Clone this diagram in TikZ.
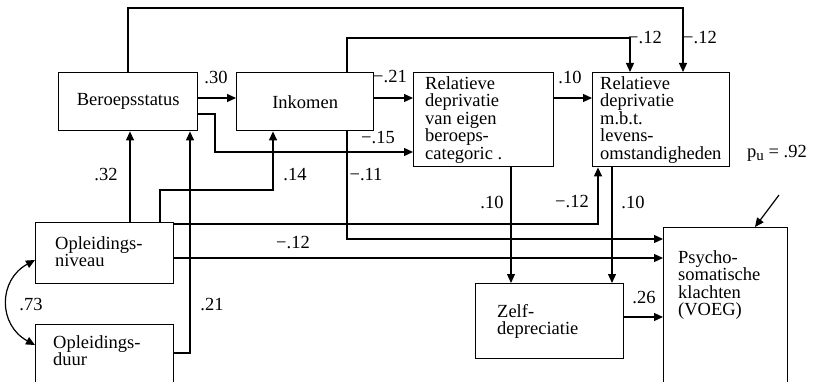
\documentclass[tikz,border=0pt]{standalone}
\usepackage{fontspec}
\setmainfont{Liberation Serif}
\usetikzlibrary{arrows.meta}
\newcommand\dfont{\fontsize{18.5}{17.5}\selectfont}
\begin{document}
\begin{tikzpicture}[x=1pt,y=-1pt,
  box/.style={draw, line width=1.4pt, inner sep=0pt, anchor=north west},
  txt/.style={inner sep=0pt, align=left, font=\dfont, anchor=north west},
  lbl/.style={inner sep=0pt, font=\dfont},
  arr/.style={line width=1.2pt, -{Triangle[length=9pt,width=8pt]}},
  darr/.style={line width=1.2pt, {Triangle[length=9pt,width=8pt]}-{Triangle[length=9pt,width=8pt]}}]
\fill[white] (0,0) rectangle (813,382);
\useasboundingbox (0,0) rectangle (813,382);

% boxes
\node[box, minimum width=139pt, minimum height=58pt, font=\dfont] (ber) at (58,72) {Beroepsstatus};
\node[box, minimum width=137pt, minimum height=58pt, font=\dfont] (ink) at (236,72) {Inkomen};
\node[box, minimum width=140pt, minimum height=94pt] (rd1) at (413,72) {};
\node[box, minimum width=137pt, minimum height=94pt] (rd2) at (592,72) {};
\node[box, minimum width=138pt, minimum height=61pt] (opn) at (35,222) {};
\node[box, minimum width=138pt, minimum height=58pt] (opd) at (35,324) {};
\node[box, minimum width=148pt, minimum height=75pt] (zel) at (475,283) {};
\node[box, minimum width=124pt, minimum height=155pt] (psy) at (663,227) {};

% box texts
\node[txt] (rd1t) at (425,76) {Relatieve\\deprivatie\\van eigen\\beroeps-\\categoric .};
\node[txt] (rd2t) at (600,76) {Relatieve\\deprivatie\\m.b.t.\\levens-\\omstandigheden};
\node[txt] (opnt) at (55,236) {Opleidings-\\niveau};
\node[txt] (opdt) at (53,335) {Opleidings-\\duur};
\node[txt] (zelt) at (497,304) {Zelf-\\depreciatie};
\node[txt] (psyt) at (678,250) {Psycho-\\somatische\\klachten\\(VOEG)};

% helper coordinates
\coordinate (L98) at (0,98);
\coordinate (L114) at (0,114);
\coordinate (c0) at (128,0);
\coordinate (c1) at (683,8);
\coordinate (c2) at (630,38);
\coordinate (c3) at (215,152);
\coordinate (c4) at (347,239);
\coordinate (c5) at (130,0);
\coordinate (c6) at (160,190);
\coordinate (c7) at (273,190);
\coordinate (c8) at (190,353);
\coordinate (c9) at (598,224);
\coordinate (c10) at (0,258);
\coordinate (c11) at (511,0);
\coordinate (c12) at (612,0);
\coordinate (c13) at (0,317);
\coordinate (pus) at (779,195);
\coordinate (c14) at (755,0);
\coordinate (L260) at (0,260);
\coordinate (L345) at (0,345);

% connectors
\draw[arr] (ber.north -| c0) |- (c1) -- (c1 |- rd2.north);
\draw[arr] (ink.north -| c4) |- (c2) -- (c2 |- rd2.north);
\draw[arr] (ber.east |- L98) -- (ink.west |- L98);
\draw[arr] (ink.east |- L98) -- (rd1.west |- L98);
\draw[arr] (rd1.east |- L98) -- (rd2.west |- L98);
\draw[arr] (ber.east |- L114) -| (c3) -- (rd1.west |- c3);
\draw[arr] (ink.south -| c4) |- (psy.west |- c4);
\draw[arr] (opn.north -| c5) -- (ber.south -| c5);
\draw[arr] (opn.north -| c6) -- (c6) -- (c7) -- (ink.south -| c7);
\draw[arr] (opd.east |- c8) -| (ber.south -| c8);
\draw[arr] (opn.east |- c9) -| (rd2.south -| c9);
\draw[arr] (opn.east |- c10) -- (psy.west |- c10);
\draw[arr] (rd1.south -| c11) -- (zel.north -| c11);
\draw[arr] (rd2.south -| c12) -- (zel.north -| c12);
\draw[arr] (zel.east |- c13) -- (psy.west |- c13);
\draw[arr] (pus) -- (psy.north -| c14);
\draw[darr] (opn.west |- L260) .. controls (-2,280) and (-2,325) .. (opd.west |- L345);

% labels
\node[lbl] (l30) at (216,77) {.30};
\node[lbl] (l21) at (390,77) {−.21};
\node[lbl] (l10a) at (570,77) {.10};
\node[lbl] (l15) at (378,138) {−.15};
\node[lbl] (l12a) at (645,38) {−.12};
\node[lbl] (l12b) at (700,38) {−.12};
\node[lbl] (l32) at (106,175) {.32};
\node[lbl] (l14) at (295,175) {.14};
\node[lbl] (l11) at (366,175) {−.11};
\node[lbl] (l12c) at (572,202) {−.12};
\node[lbl] (l10b) at (492,202) {.10};
\node[lbl] (l10c) at (633,202) {.10};
\node[lbl] (l12d) at (293,243) {−.12};
\node[lbl] (l21b) at (212,305) {.21};
\node[lbl] (l73) at (31,305) {.73};
\node[lbl] (l26) at (644,298) {.26};
\node[lbl] (pu) at (777,153) {p\raisebox{-0.45ex}{\fontsize{15}{15}\selectfont u} = .92};
\end{tikzpicture}
\end{document}
